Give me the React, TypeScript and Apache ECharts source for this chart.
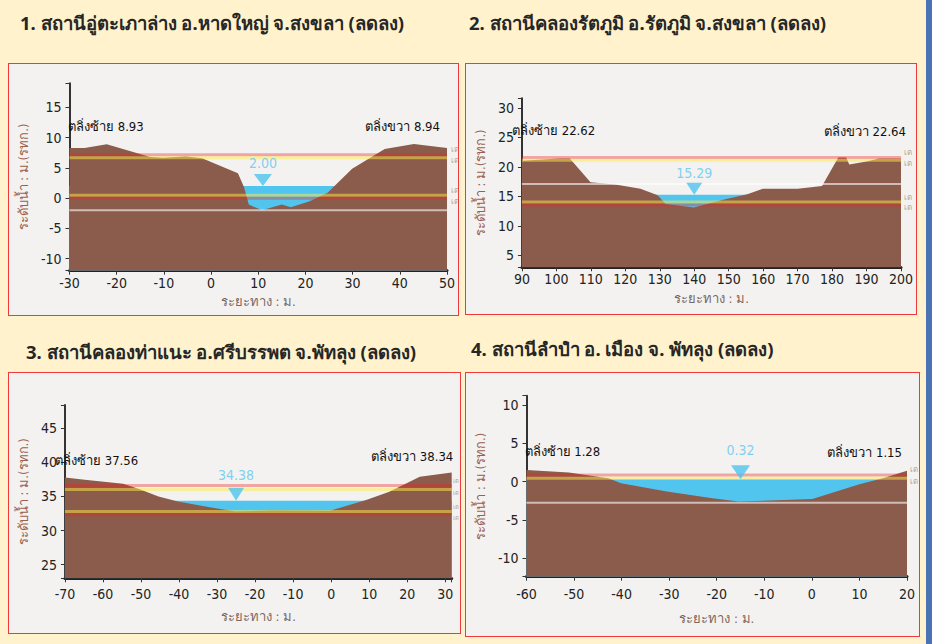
import React, { useEffect, useRef } from 'react';
import * as echarts from 'echarts';

const FONT = "'Liberation Sans Narrow', 'Arial Narrow', 'DejaVu Sans Condensed', 'Noto Sans', sans-serif";
const TITLE_FONT = "Tahoma, 'Noto Sans', 'DejaVu Sans', sans-serif";

// ---------- Station 1 ----------
const st1Title = '1. สถานีอู่ตะเภาล่าง อ.หาดใหญ่ จ.สงขลา (ลดลง)';
const st1Dist = [-30, -26.8, -22.1, -12.9, -10.2, -5.3, -1.9, 5.7, 7.0, 8.0, 10.8, 15.0, 16.9, 20.9, 24.7, 29.9, 36.8, 43.0, 50];
const st1Elev = [8.3, 8.3, 8.93, 6.8, 6.7, 6.9, 6.6, 4.1, 1.8, -1.05, -2.0, -1.05, -1.5, -0.5, 0.9, 4.85, 8.15, 8.94, 8.3];
const st1Water = 2.0;
const st1WaterAt = 11;
const st1Banks = [8.93, 8.94];
const st1Levels = [7.2, 6.7, 0.5, 0.0];
const st1LevelKinds = ['red', 'yellow', 'yellow', 'red'];
const st1Bed = [-2.0];
const st1XRange = [-30, 50];
const st1YRange = [-12, 19];

// ---------- Station 2 ----------
const st2Title = '2. สถานีคลองรัตภูมิ อ.รัตภูมิ จ.สงขลา (ลดลง)';
const st2Dist = [90, 97.1, 101.2, 103.9, 109.9, 117.1, 124.4, 129.4, 131.7, 139.9, 149.0, 155.4, 159.9, 170.0, 177.1, 181.8, 184.1, 185.0, 190.0, 193.6, 200];
const st2Elev = [21.05, 21.3, 21.4, 21.4, 17.4, 17.0, 16.3, 15.2, 13.7, 13.1, 14.5, 15.35, 16.3, 16.3, 16.75, 21.6, 21.6, 20.4, 20.9, 21.4, 21.4];
const st2Water = 15.29;
const st2WaterAt = 140;
const st2Banks = [22.62, 22.64];
const st2Levels = [21.6, 21.1, 14.05, 13.55];
const st2LevelKinds = ['red', 'yellow', 'yellow', 'red'];
const st2Bed = [17.1];
const st2XRange = [90, 200];
const st2YRange = [3, 31.6];

// ---------- Station 3 ----------
const st3Title = '3. สถานีคลองท่าแนะ อ.ศรีบรรพต จ.พัทลุง (ลดลง)';
const st3Dist = [-70, -64.8, -54.7, -50.5, -45.4, -40.3, -31.9, -25.2, -15.1, -0.3, 9.4, 15.3, 23.3, 31.7];
const st3Elev = [37.78, 37.44, 36.85, 36.1, 35.0, 34.27, 33.4, 32.8, 32.95, 32.9, 34.5, 35.7, 37.9, 38.5];
const st3Water = 34.38;
const st3WaterAt = -25;
const st3Banks = [37.56, 38.34];
const st3Levels = [36.6, 36.0, 32.8, 32.3];
const st3LevelKinds = ['red', 'yellow', 'yellow', 'red'];
const st3Bed: number[] = [];
const st3XRange = [-70, 31.7];
const st3YRange = [23, 48.4];

// ---------- Station 4 ----------
const st4Title = '4. สถานีลำปำ อ. เมือง จ. พัทลุง (ลดลง)';
const st4Dist = [-60, -51.1, -42.8, -40.1, -30.5, -20.9, -15.4, 0.1, 10.0, 14.9, 20];
const st4Elev = [1.5, 1.2, 0.43, -0.2, -1.3, -2.17, -2.6, -2.26, -0.35, 0.43, 1.4];
const st4Water = 0.32;
const st4WaterAt = -15;
const st4Banks = [1.28, 1.15];
const st4Levels = [0.87, 0.43];
const st4LevelKinds = ['red', 'yellow'];
const st4Bed = [-2.75];
const st4XRange = [-60, 20];
const st4YRange = [-12.4, 11.2];

const X_NAME = 'ระยะทาง : ม.';
const Y_NAME = 'ระดับน้ำ : ม.(รทก.)';
const BANK_L = 'ตลิ่งซ้าย';
const BANK_R = 'ตลิ่งขวา';
const LEVEL_TAG = 'เต';

const STATIONS = [
  { title: st1Title, dist: st1Dist, elev: st1Elev, water: st1Water, waterAt: st1WaterAt, banks: st1Banks, levels: st1Levels, kinds: st1LevelKinds, bed: st1Bed, xr: st1XRange, yr: st1YRange },
  { title: st2Title, dist: st2Dist, elev: st2Elev, water: st2Water, waterAt: st2WaterAt, banks: st2Banks, levels: st2Levels, kinds: st2LevelKinds, bed: st2Bed, xr: st2XRange, yr: st2YRange },
  { title: st3Title, dist: st3Dist, elev: st3Elev, water: st3Water, waterAt: st3WaterAt, banks: st3Banks, levels: st3Levels, kinds: st3LevelKinds, bed: st3Bed, xr: st3XRange, yr: st3YRange },
  { title: st4Title, dist: st4Dist, elev: st4Elev, water: st4Water, waterAt: st4WaterAt, banks: st4Banks, levels: st4Levels, kinds: st4LevelKinds, bed: st4Bed, xr: st4XRange, yr: st4YRange },
];

// layout (positions / sizes only)
const LAYOUT = [
  { box: [8, 63, 451, 253], grid: [52, 19.3, 386, 187.4], title: [20, 22.7], yGap: 24, xGap: 24, xMargin: 5, bl: [59, 62.7], br: [431, 62.7], tagSize: 8, tagDist: 4, wl: 4, tri: [18, 12] },
  { box: [465, 63, 452, 252], grid: [36.7, 34.3, 402.6, 169], title: [469, 22.7], yGap: 18, xGap: 25, xMargin: 5, bl: [46, 66.5], br: [440, 67.5], tagSize: 8, tagDist: 3, wl: 3, tri: [16, 12] },
  { box: [8, 372, 453, 262], grid: [40.3, 32, 402.4, 173.3], title: [26, 352.3], yGap: 18, xGap: 32, xMargin: 9, bl: [46, 87], br: [444.3, 83], tagSize: 6, tagDist: 1, wl: 6, tri: [16, 13] },
  { box: [465, 372, 455, 265], grid: [52.7, 22.7, 388.3, 181], title: [471, 349.3], yGap: 25, xGap: 35, xMargin: 10, bl: [58.5, 78], br: [436, 79.3], tagSize: 8, tagDist: 3, wl: 8, tri: [19, 14] },
];

const LEVEL_COLORS: Record<string, string> = {
  red: 'rgba(236,40,40,0.38)',
  yellow: 'rgba(255,236,70,0.5)',
};

function buildOption(s: typeof STATIONS[number], L: typeof LAYOUT[number]) {
  const [xmin, xmax] = s.xr;
  const [ymin, ymax] = s.yr;
  const series: any[] = [];
  series.push({
    type: 'line', silent: true, symbol: 'none', z: 1,
    data: [[xmin, s.water], [xmax, s.water]],
    lineStyle: { width: 0 },
    areaStyle: { color: '#52C5EE', opacity: 1, origin: 'start' },
  });
  series.push({
    type: 'line', silent: true, symbol: 'none', z: 2,
    data: s.dist.map((d, i) => [d, s.elev[i]]),
    lineStyle: { width: 0 },
    areaStyle: { color: '#8B5B4B', opacity: 1, origin: 'start' },
  });
  s.bed.forEach((v) => {
    series.push({
      type: 'line', silent: true, symbol: 'none', z: 3,
      data: [[xmin, v], [xmax, v]],
      lineStyle: { color: 'rgba(255,255,255,0.6)', width: 2 },
    });
  });
  s.levels.forEach((v, i) => {
    series.push({
      type: 'line', silent: true, symbol: 'none', z: 4,
      data: [[xmin, v], [xmax, v]],
      lineStyle: { color: LEVEL_COLORS[s.kinds[i]], width: 3 },
      endLabel: {
        show: true, formatter: LEVEL_TAG, color: '#B5A898', fontSize: L.tagSize,
        fontFamily: FONT, distance: L.tagDist, offset: [0, i % 2 === 0 ? -5 : 3],
      },
    });
  });
  series.push({
    type: 'scatter', silent: true, z: 6,
    data: [[s.waterAt, s.water]],
    symbol: 'path://M0,0L20,0L10,13Z',
    symbolSize: L.tri,
    symbolOffset: [0, '-50%'],
    itemStyle: { color: '#4DC3F0' },
    label: {
      show: true, position: 'top', distance: L.wl,
      formatter: s.water.toFixed(2), color: '#5EC8F2', fontSize: 14, fontFamily: FONT,
    },
  });

  const axisLabelBase = { color: '#222', fontSize: 14, fontFamily: FONT };
  return {
    animation: false,
    textStyle: { fontFamily: FONT },
    grid: { left: L.grid[0], top: L.grid[1], width: L.grid[2], height: L.grid[3] },
    xAxis: {
      type: 'value', min: xmin, max: xmax, interval: 10,
      name: X_NAME, nameLocation: 'middle', nameGap: L.xGap,
      nameTextStyle: { color: '#7A6660', fontSize: 13, fontFamily: FONT },
      axisLine: { show: true, onZero: false, lineStyle: { color: '#222', width: 3 } },
      axisTick: { show: true, length: 4, lineStyle: { color: '#333' } },
      axisLabel: { ...axisLabelBase, margin: L.xMargin, formatter: (v: number) => (Math.abs(v % 10) < 1e-9 ? String(v) : '') },
      splitLine: { show: false },
    },
    yAxis: {
      type: 'value', min: ymin, max: ymax,
      name: Y_NAME, nameLocation: 'middle', nameGap: L.yGap,
      nameTextStyle: { color: '#9C5F4E', fontSize: 13, fontFamily: FONT },
      axisLine: { show: true, onZero: false, lineStyle: { color: '#333', width: 2 } },
      axisTick: { show: true, length: 4, lineStyle: { color: '#333' } },
      axisLabel: { ...axisLabelBase, margin: 8, formatter: (v: number) => (Math.abs(v % 5) < 1e-9 ? String(v) : '') },
      splitLine: { show: false },
    },
    graphic: [
      {
        type: 'text', x: L.bl[0], y: L.bl[1], z: 10,
        style: { text: `${BANK_L} ${s.banks[0].toFixed(2)}`, fill: '#111', font: `13px ${FONT}`, textAlign: 'left', textVerticalAlign: 'middle' },
      },
      {
        type: 'text', x: L.br[0], y: L.br[1], z: 10,
        style: { text: `${BANK_R} ${s.banks[1].toFixed(2)}`, fill: '#111', font: `13px ${FONT}`, textAlign: 'right', textVerticalAlign: 'middle' },
      },
    ],
    series,
  };
}

function Panel({ idx }: { idx: number }) {
  const ref = useRef<HTMLDivElement>(null);
  const s = STATIONS[idx];
  const L = LAYOUT[idx];
  useEffect(() => {
    if (!ref.current) return;
    const chart = echarts.init(ref.current, undefined, { renderer: 'svg' });
    chart.setOption(buildOption(s, L) as any);
    return () => chart.dispose();
  }, []);
  return (
    <>
      <div
        style={{
          position: 'absolute', left: L.title[0], top: L.title[1] - 13, height: 26, lineHeight: '26px',
          fontFamily: TITLE_FONT, fontSize: 18.5, fontWeight: 'bold', color: '#262626', whiteSpace: 'nowrap',
        }}
      >
        {s.title}
      </div>
      <div
        style={{
          position: 'absolute', left: L.box[0], top: L.box[1], width: L.box[2], height: L.box[3],
          boxSizing: 'border-box', border: '1px solid #EE3A3A', background: '#F3F2F0', overflow: 'hidden',
        }}
      >
        <div ref={ref} style={{ width: L.box[2] - 2, height: L.box[3] - 2 }} />
      </div>
    </>
  );
}

export default function App() {
  return (
    <div style={{ position: 'fixed', left: 0, top: 0, width: 932, height: 644, background: '#FFF2CC', overflow: 'hidden' }}>
      {STATIONS.map((_, i) => (
        <Panel key={i} idx={i} />
      ))}
      <div style={{ position: 'absolute', left: 926, top: 0, width: 6, height: 644, background: '#4A72B5' }} />
    </div>
  );
}
